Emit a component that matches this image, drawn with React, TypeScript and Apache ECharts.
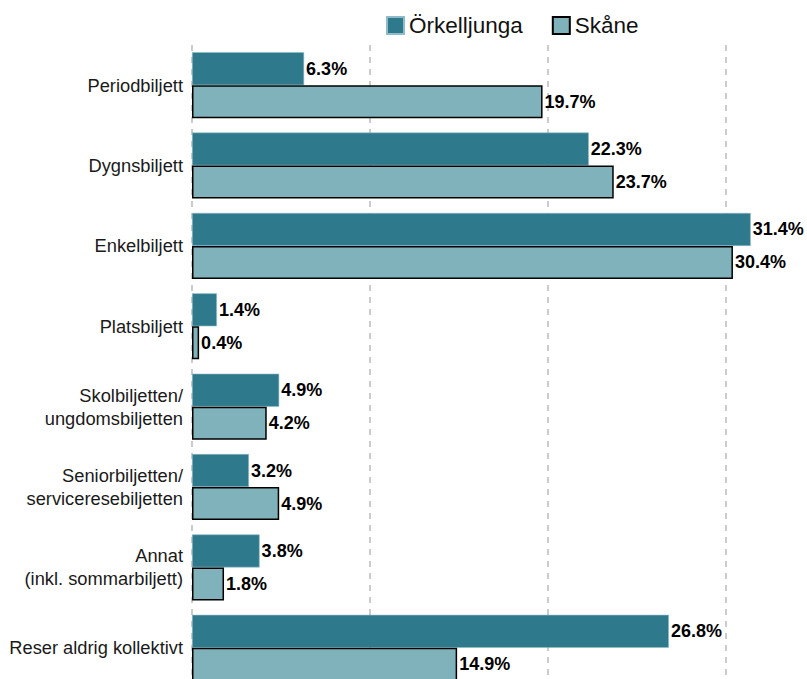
import React, { useEffect, useRef } from "react";
import * as echarts from "echarts";

const categories = [
  "Periodbiljett",
  "Dygnsbiljett",
  "Enkelbiljett",
  "Platsbiljett",
  "Skolbiljetten/\nungdomsbiljetten",
  "Seniorbiljetten/\nserviceresebiljetten",
  "Annat\n(inkl. sommarbiljett)",
  "Reser aldrig kollektivt",
];
const orkelljunga = [6.3, 22.3, 31.4, 1.4, 4.9, 3.2, 3.8, 26.8];
const skane = [19.7, 23.7, 30.4, 0.4, 4.2, 4.9, 1.8, 14.9];

const FONT = "'Liberation Sans', Arial, sans-serif";

export default function App() {
  const ref = useRef<HTMLDivElement>(null);
  useEffect(() => {
    if (!ref.current) return;
    const chart = echarts.init(ref.current, null, { renderer: "svg" });
    const label = {
      show: true,
      position: "right",
      distance: 2,
      formatter: (p: any) => p.value.toFixed(1) + "%",
      fontFamily: FONT,
      fontSize: 18,
      fontWeight: "bold",
      color: "#000",
    };
    chart.setOption({
      animation: false,
      textStyle: { fontFamily: FONT },
      legend: {
        top: 9,
        left: 381,
        itemWidth: 17,
        itemHeight: 17,
        itemGap: 29,
        textStyle: { fontFamily: FONT, fontSize: 22.5, color: "#111" },
        data: [
          { name: "Örkelljunga", icon: "rect" },
          { name: "Skåne", icon: "rect" },
        ],
      },
      grid: { left: 192, right: 10, top: 45, bottom: 12 },
      xAxis: {
        type: "value",
        min: 0,
        max: 34,
        interval: 10,
        axisLabel: { show: false },
        axisLine: { show: false },
        axisTick: { show: false },
        splitLine: {
          show: true,
          showMaxLine: false,
          lineStyle: { type: [6, 6], color: "#bbbbbb", width: 1.5 },
        },
      },
      yAxis: {
        type: "category",
        inverse: true,
        data: categories,
        axisLine: { show: false },
        axisTick: { show: false },
        axisLabel: {
          margin: 9,
          fontFamily: FONT,
          fontSize: 18.3,
          color: "#1a1a1a",
          lineHeight: 23,
          align: "right",
        },
      },
      series: [
        {
          name: "Örkelljunga",
          type: "bar",
          data: orkelljunga,
          barWidth: 33,
          barGap: "0%",
          itemStyle: {
            color: "#2e7a8c",
            borderColor: "#8fbcc6",
            borderWidth: 0.6,
          },
          label,
        },
        {
          name: "Skåne",
          type: "bar",
          data: skane,
          barWidth: 33,
          barGap: "0%",
          itemStyle: {
            color: "#7fb2bb",
            borderColor: "#000",
            borderWidth: 1.5,
          },
          label,
        },
      ],
    });
    return () => chart.dispose();
  }, []);
  return (
    <div
      ref={ref}
      style={{ position: "absolute", left: 0, top: 0, width: 807, height: 700 }}
    />
  );
}
